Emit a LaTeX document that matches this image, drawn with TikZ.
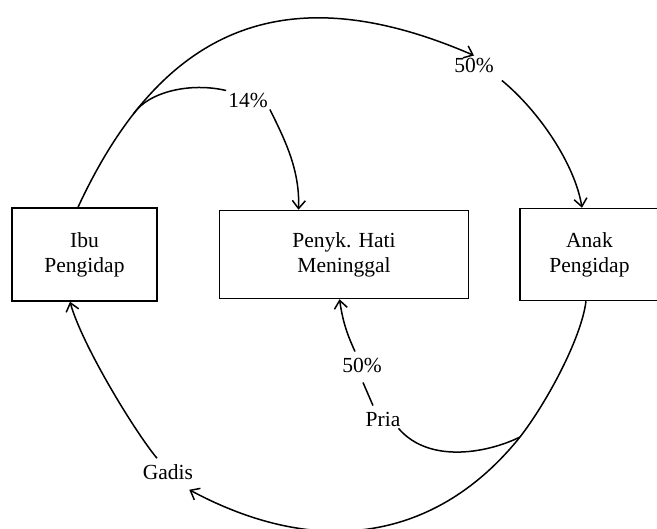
\documentclass[tikz,border=0pt]{standalone}
\usepackage{fontspec}
\setmainfont{Liberation Serif}
\usetikzlibrary{arrows.meta, positioning}
\tikzset{
    box/.style={draw, line width=1.5pt, align=center, font=\fontsize{21.5}{25}\selectfont},
    lbl/.style={inner sep=2pt, font=\fontsize{21.5}{25}\selectfont},
    link/.style={line width=1.5pt},
    flow/.style={link, -{Straight Barb[length=8pt, width=13pt]}},
}

\begin{document}
\begin{tikzpicture}[x=1pt, y=-1pt]
    \useasboundingbox (0,0) rectangle (657,529);

    \node[box, minimum width=145pt, minimum height=93pt] (ibu) at (84.5,254.5) {Ibu\\Pengidap};
    \node[box, minimum width=249pt, minimum height=88pt, right=61pt of ibu] (penyk) {Penyk. Hati\\Meninggal};
    \node[box, minimum width=139pt, minimum height=92pt, right=50pt of penyk] (anak) {Anak\\Pengidap};

    \node[lbl] (p50a) at (474,65) {50\%};
    \node[lbl] (p14) at (248,100) {14\%};
    \node[lbl] (gadis) at (168,472) {Gadis};
    \node[lbl] (pria) at (383,419) {Pria};
    \node[lbl] (p50b) at (362,365) {50\%};

    % ibu -> anak
    \draw[flow] ([xshift=-6.5pt]ibu.north) .. controls (162,26) and (286,-26) .. (p50a.north)
        coordinate[pos=0.2] (split1);
    \draw[flow] ([xshift=6pt,yshift=-6pt]p50a.south east) .. controls (540,112) and (575,165) .. ([xshift=-7.5pt]anak.north);

    % ibu -> penyk
    \draw[link] (split1) .. controls (148,92) and (190,82) .. (p14.north west);
    \draw[flow] (p14.south east) .. controls (285,140) and (300,170) .. ([xshift=-45.5pt]penyk.north);

    % anak -> ibu
    \draw[link] ([xshift=-3.5pt]anak.south) .. controls (581,340) and (545,405) .. (520,437) coordinate (split2);
    \draw[flow] (split2) .. controls (439,538) and (322,561) .. ([xshift=-6pt,yshift=-8pt]gadis.south east);
    \draw[flow] ([xshift=-11pt,yshift=4pt]gadis.north) .. controls (135,432) and (82,345) .. ([xshift=-14.5pt]ibu.south);

    % anak -> penyk
    \draw[link] (split2) .. controls (490,452) and (430,465) .. ([xshift=-4pt]pria.south east);
    \draw[link] ([xshift=-10pt,yshift=4pt]pria.north) -- ([xshift=1pt,yshift=-8pt]p50b.south);
    \draw[flow] ([xshift=-7pt,yshift=4pt]p50b.north) to[bend left=8] ([xshift=-4.5pt]penyk.south);
\end{tikzpicture}
\end{document}
